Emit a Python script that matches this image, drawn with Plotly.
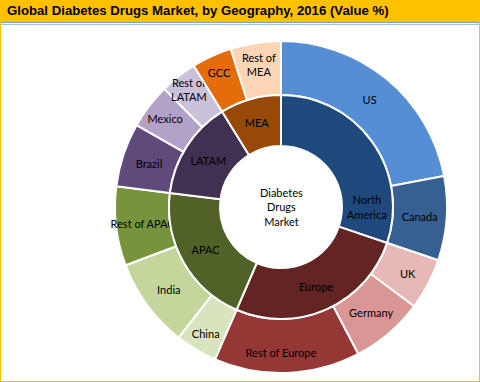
import plotly.graph_objects as go

# Outer ring (countries)
outer_labels = ["US", "Canada", "UK", "Germany", "Rest of Europe", "China", "India",
                "Rest of APAC", "Brazil", "Mexico", "Rest of LATAM", "GCC", "Rest of MEA"]
outer_text = ["US", "Canada", "UK", "Germany", "Rest of Europe", "China", "India",
              "Rest of APAC", "Brazil", "Mexico", "Rest of<br>LATAM", "GCC", "Rest of<br>MEA"]
outer_values = [22.0, 8.2, 5.0, 7.1, 14.2, 4.1, 8.7, 7.7, 6.2, 4.4, 3.6, 3.9, 4.9]
outer_colors = ["#558ED5", "#376092", "#E6B9B8", "#D99694", "#953735", "#D7E4BD", "#C3D69B",
                "#77933C", "#604A7B", "#B3A2C7", "#CCC1DA", "#E46C0A", "#FCD5B5"]

# Inner ring (regions)
inner_labels = ["North America", "Europe", "APAC", "LATAM", "MEA"]
inner_text = ["North<br>America", "Europe", "APAC", "LATAM", "MEA"]
inner_values = [30.2, 26.3, 20.5, 14.2, 8.8]
inner_colors = ["#1F497D", "#632523", "#4F6228", "#403152", "#984807"]

title_text = "Global Diabetes Drugs Market, by Geography, 2016 (Value %)"
center_text = "Diabetes<br>Drugs<br>Market"

W, H = 480, 382
cx, cy = 281, 207
r_out, r_mid, r_hole = 166, 112, 61


def dom(r):
    return dict(x=[(cx - r) / W, (cx + r) / W], y=[(H - cy - r) / H, (H - cy + r) / H])


fig = go.Figure()
fig.add_trace(go.Pie(
    labels=outer_labels, values=outer_values, text=outer_text, textinfo="text",
    sort=False, direction="clockwise", rotation=0, hole=r_mid / r_out,
    marker=dict(colors=outer_colors, line=dict(color="white", width=2)),
    textposition="inside", insidetextorientation="horizontal",
    insidetextfont=dict(family="Lato", size=11, color="black"),
    domain=dom(r_out), showlegend=False, hoverinfo="label+value",
))
fig.add_trace(go.Pie(
    labels=inner_labels, values=inner_values, text=inner_text, textinfo="text",
    sort=False, direction="clockwise", rotation=0, hole=r_hole / r_mid,
    marker=dict(colors=inner_colors, line=dict(color="white", width=2)),
    textposition="inside", insidetextorientation="horizontal",
    insidetextfont=dict(family="Lato", size=[14, 11, 11, 11, 11], color="black"),
    domain=dom(r_mid), showlegend=False, hoverinfo="label+value",
))

shapes = [
    dict(type="rect", xref="paper", yref="paper", x0=0, x1=1, y0=1 - 22 / H, y1=1,
         fillcolor="#FFC000", line=dict(width=0), layer="below"),
    dict(type="line", xref="paper", yref="paper", x0=0, x1=1, y0=1 - 22.5 / H, y1=1 - 22.5 / H,
         line=dict(color="#7F9FC6", width=1)),
    dict(type="line", xref="paper", yref="paper", x0=0, x1=1, y0=1 - 24.5 / H, y1=1 - 24.5 / H,
         line=dict(color="#9DC3E6", width=1)),
    dict(type="rect", xref="paper", yref="paper", x0=0, x1=1, y0=0, y1=1,
         line=dict(color="#FFC000", width=2), fillcolor="rgba(0,0,0,0)"),
]

annotations = [
    dict(text="<b>" + title_text + "</b>", xref="paper", yref="paper", x=5 / W, y=1 - 11 / H,
         xanchor="left", yanchor="middle", showarrow=False,
         font=dict(family="Liberation Sans", size=13.2, color="black")),
    dict(text=center_text, xref="paper", yref="paper", x=cx / W, y=1 - cy / H,
         xanchor="center", yanchor="middle", showarrow=False,
         font=dict(family="Lato", size=11, color="black")),
]

fig.update_layout(
    width=W, height=H, margin=dict(l=0, r=0, t=0, b=0),
    paper_bgcolor="white", plot_bgcolor="white",
    shapes=shapes, annotations=annotations,
    uniformtext=dict(minsize=10.5, mode="show"),
)

fig.write_html("out.html", config={"displayModeBar": False},
               post_script="document.body.style.margin='0';")
